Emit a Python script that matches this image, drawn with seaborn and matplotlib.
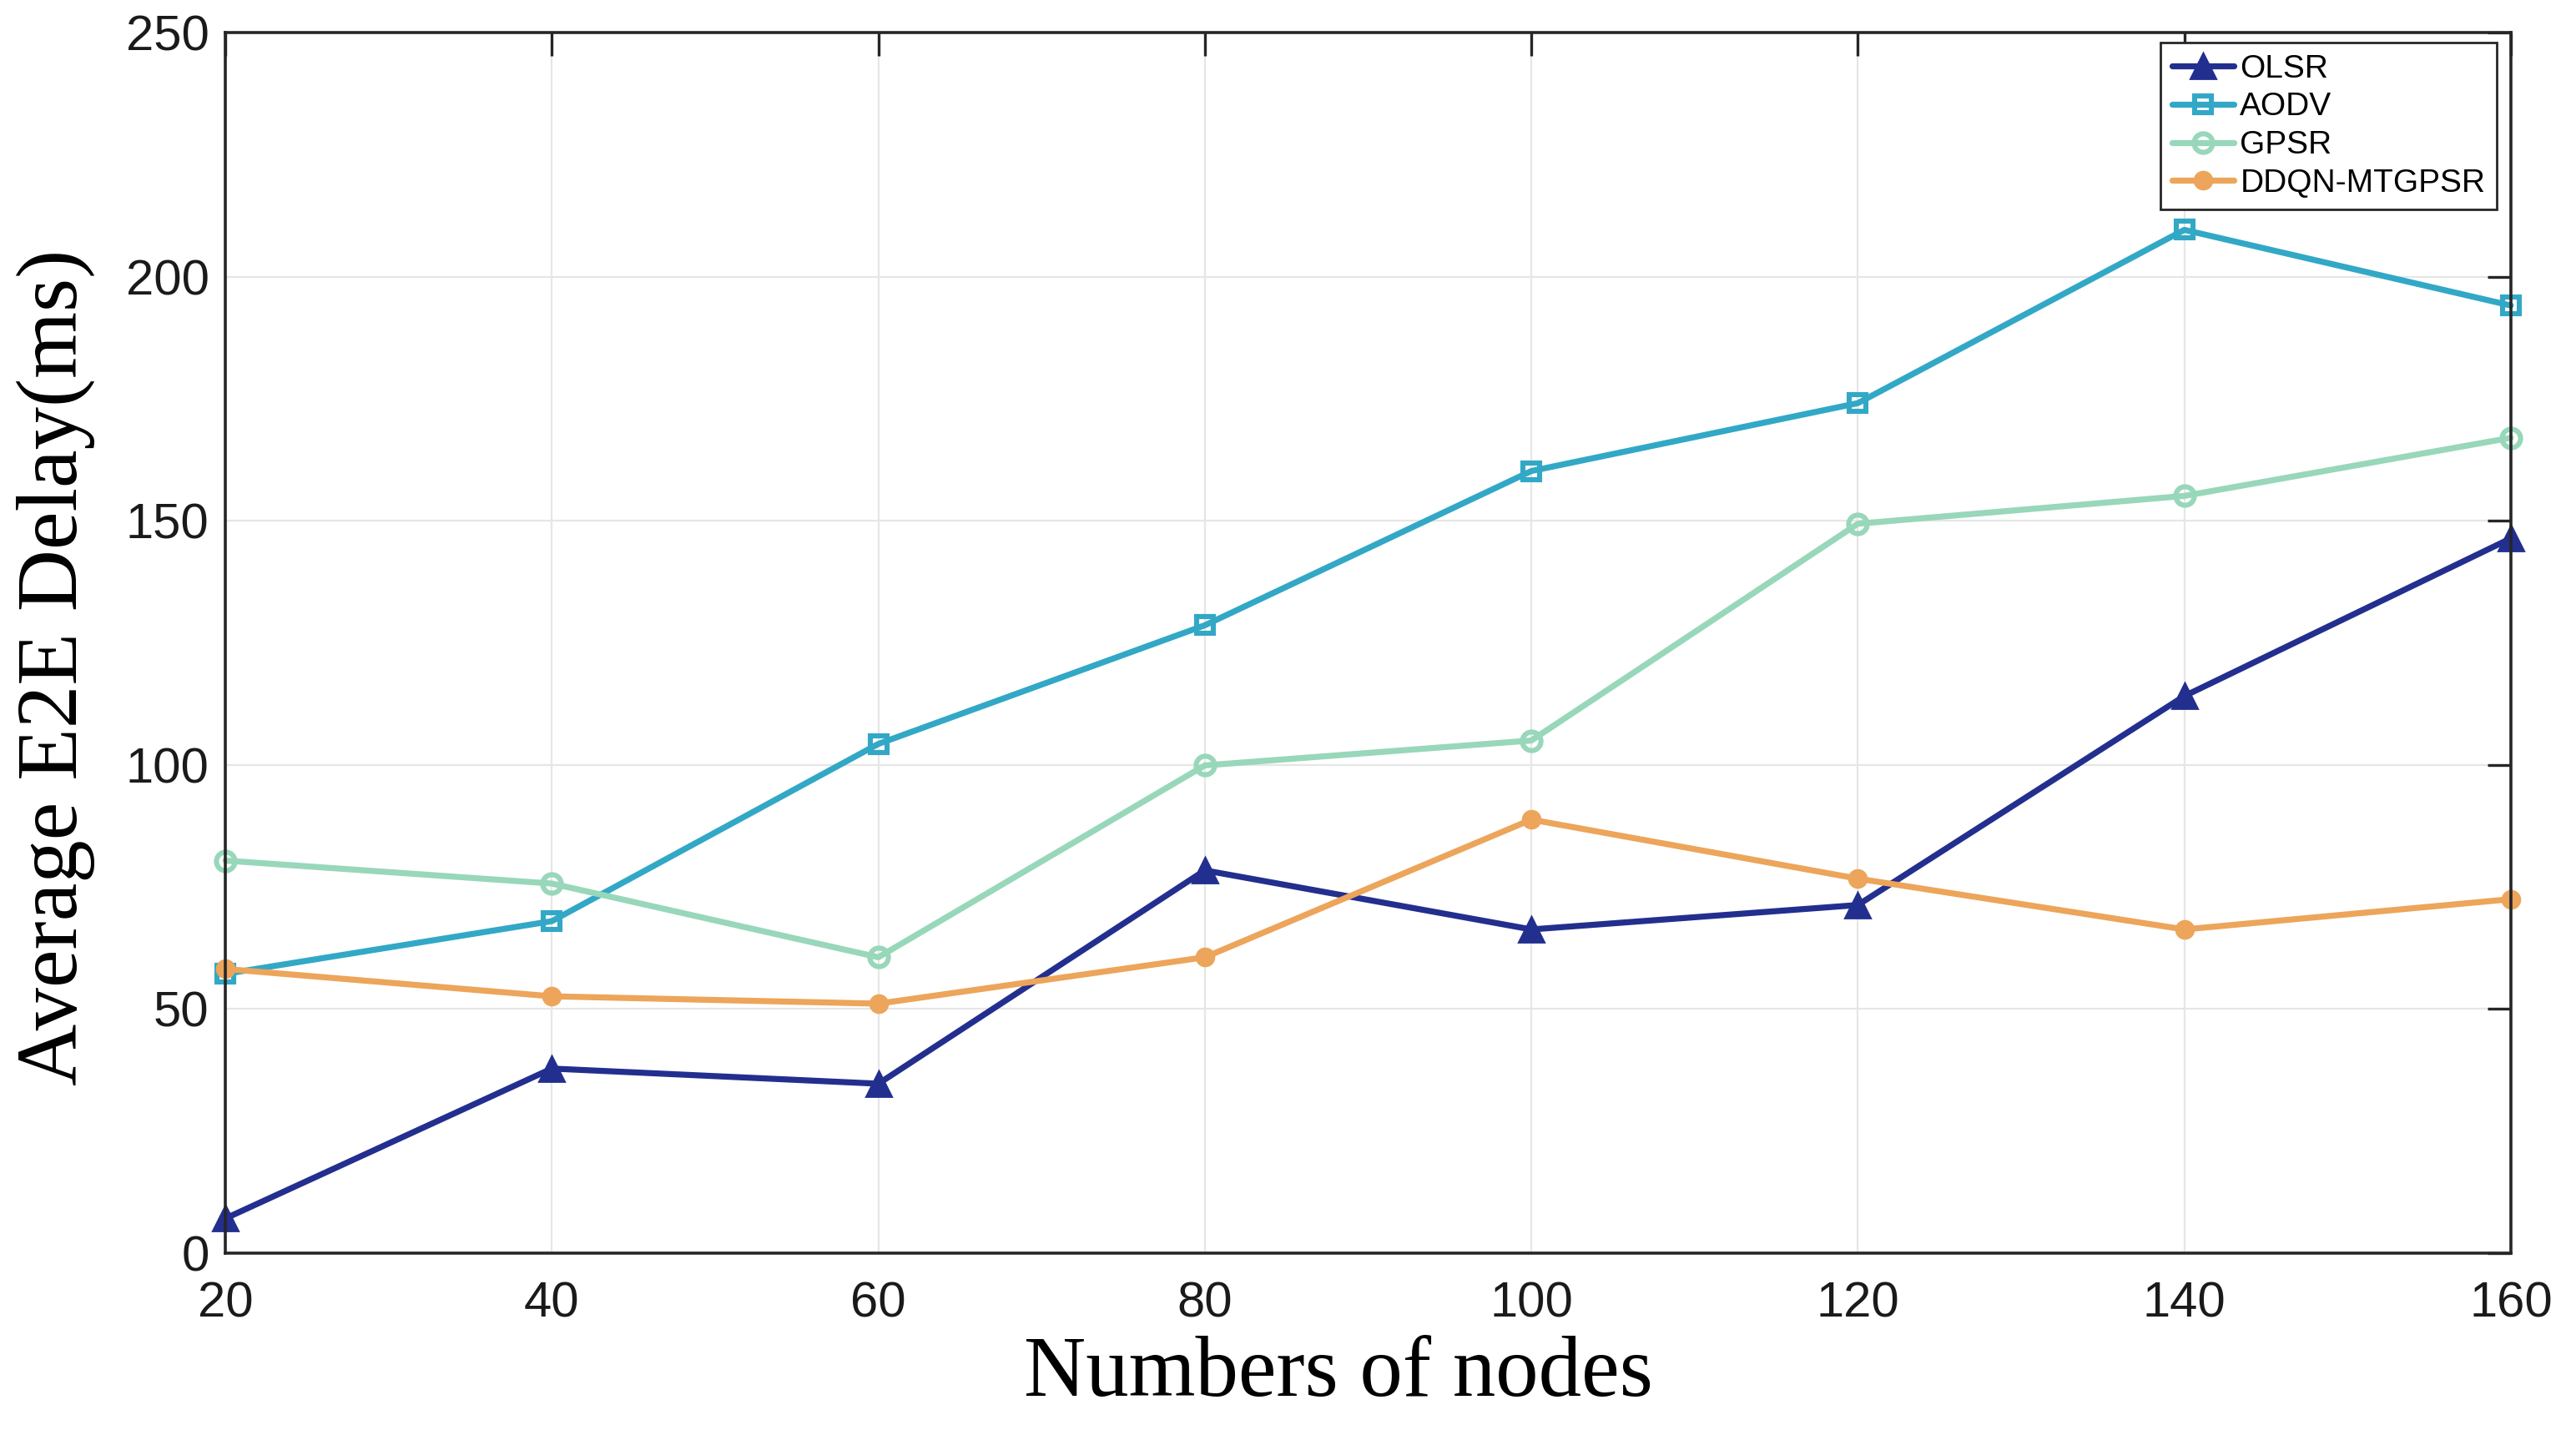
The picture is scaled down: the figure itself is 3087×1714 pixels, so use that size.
import matplotlib
matplotlib.use("Agg")
import matplotlib.pyplot as plt
import seaborn as sns
import pandas as pd

# Data
nodes = [20, 40, 60, 80, 100, 120, 140, 160]
olsr = [7.1, 37.8, 34.7, 78.4, 66.3, 71.3, 114.1, 146.4]
aodv = [57.2, 68.0, 104.3, 128.6, 160.2, 174.1, 209.6, 194.1]
gpsr = [80.4, 75.7, 60.6, 99.9, 105.0, 149.4, 155.1, 167.0]
ddqn = [58.2, 52.6, 51.1, 60.6, 88.8, 76.7, 66.3, 72.5]

series_names = ["OLSR", "AODV", "GPSR", "DDQN-MTGPSR"]
y_ticks = [0, 50, 100, 150, 200, 250]

df = pd.DataFrame({
    "nodes": nodes * 4,
    "delay": olsr + aodv + gpsr + ddqn,
    "protocol": [n for n in series_names for _ in nodes],
})

# line styles per protocol
styles = {
    "OLSR": dict(color="#232F8E", marker="^", markersize=11, mfc="#232F8E"),
    "AODV": dict(color="#32A8C6", marker="s", markersize=7.5, mfc="none", mew=2.2),
    "GPSR": dict(color="#98D7BA", marker="o", markersize=8, mfc="none", mew=2.2),
    "DDQN-MTGPSR": dict(color="#ECA55A", marker="o", markersize=7.5, mfc="#ECA55A"),
}

sns.set_theme(style="white")
plt.rcParams["font.family"] = ["Liberation Sans", "DejaVu Sans"]

fig = plt.figure(figsize=(15.435, 8.57), dpi=200)
ax = fig.add_axes([0.0875, 0.1237, 0.8872, 0.8535])

for name in series_names:
    st = styles[name]
    sns.lineplot(
        data=df[df["protocol"] == name], x="nodes", y="delay", ax=ax,
        label=name, color=st["color"], marker=st["marker"],
        markersize=st["markersize"], markerfacecolor=st["mfc"],
        markeredgecolor=st["color"], markeredgewidth=st.get("mew", 1.0),
        linewidth=2.6, errorbar=None, clip_on=False,
    )

ax.set_xlim(20, 160)
ax.set_ylim(0, 250)
ax.set_xticks(nodes)
ax.set_yticks(y_ticks)
ax.grid(True, color="#e6e6e6", linewidth=0.8)
ax.set_axisbelow(True)

for sp in ax.spines.values():
    sp.set_color("#262626")
    sp.set_linewidth(1.3)

ax.tick_params(direction="in", length=10, width=1.2, color="#262626",
               top=True, right=True, labelsize=21.5, labelcolor="#1a1a1a")
ax.tick_params(axis="x", pad=12)
ax.tick_params(axis="y", pad=7)

ax.set_xlabel("Numbers of nodes", fontsize=37, family="Liberation Serif", color="black")
ax.set_ylabel("Average E2E Delay(ms)", fontsize=37, family="Liberation Serif", color="black")
ax.xaxis.set_label_coords(0.487, -0.068)
ax.yaxis.set_label_coords(-0.057, 0.48)

leg = ax.legend(loc="upper right", bbox_to_anchor=(0.9938, 0.9918), borderaxespad=0,
                fontsize=14, frameon=True, fancybox=False, framealpha=1,
                edgecolor="#262626", handlelength=1.9, handletextpad=0.2,
                labelspacing=0.25, borderpad=0.35)
leg.get_frame().set_linewidth(1.0)
for t in leg.get_texts():
    t.set_color("black")

fig.savefig("out.png", dpi=200)
